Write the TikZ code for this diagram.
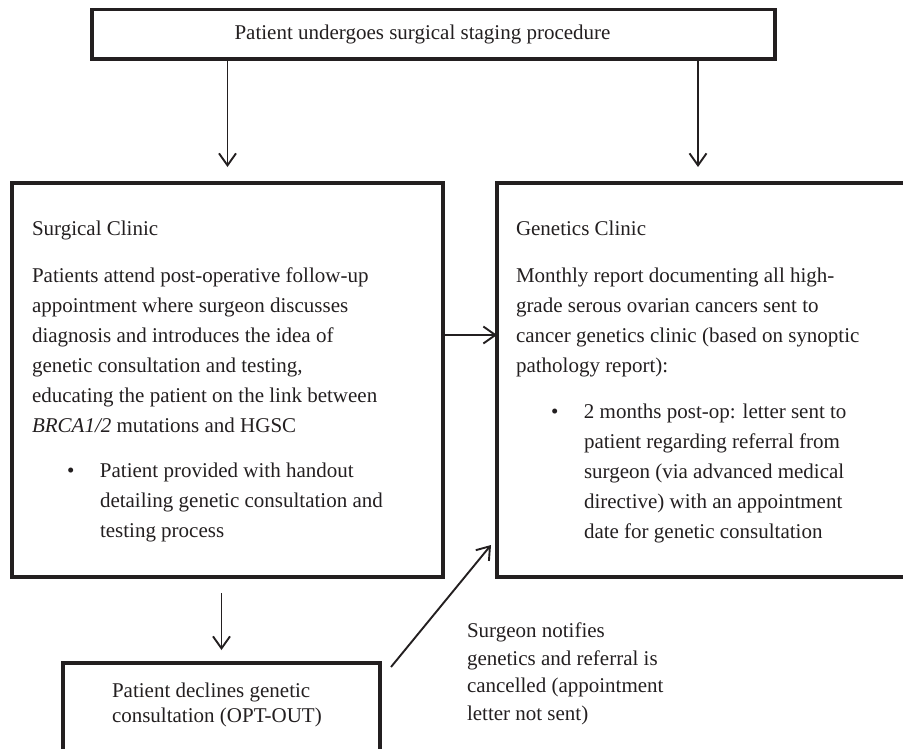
\documentclass[tikz,border=0pt]{standalone}
\usepackage{fontspec}
\setmainfont{Liberation Serif}
\usepackage{tikz}
\usetikzlibrary{arrows.meta}
\definecolor{ink}{HTML}{231F20}
\tikzstyle{every node}=[inner sep=0pt,outer sep=0pt,text=ink]
\tikzstyle{frame}=[draw=ink,line width=4pt]
\tikzstyle{body}=[anchor=base west,align=left,font=\fontsize{21}{30}\selectfont]
\tikzstyle{link}=[draw=ink,line width=1.9pt,-{Straight Barb[length=12pt,width=17pt]}]
\newcommand{\bul}{\hspace*{35pt}\makebox[33pt][l]{\textbullet}}
\newcommand{\ind}{\hspace*{68pt}}

\begin{document}
\begin{tikzpicture}[x=1pt,y=-1pt]
  \useasboundingbox (0,0) rectangle (903,748);
  \node[frame,line width=3.5pt,minimum width=683pt,minimum height=49.5pt,
    font=\fontsize{21}{25}\selectfont] (top) at (433.5,34.25)
    {\hspace*{-22pt}Patient undergoes surgical staging procedure};
  \node[frame,minimum width=431pt,minimum height=394pt] (surg) at (227.5,380) {};
  \node[frame,minimum width=463pt,minimum height=394pt] (gen) at (728.5,380) {};
  \node[frame,minimum width=317pt,minimum height=97pt] (decl) at (221.5,711.5) {};
  % base anchor sits on the last line
  \node[body] (surgtxt) at (32,537) {Surgical Clinic\\[17pt]
    Patients attend post-operative follow-up\\
    appointment where surgeon discusses\\
    diagnosis and introduces the idea of\\
    genetic consultation and testing,\\
    educating the patient on the link between\\
    \textit{BRCA1/2}\ mutations and HGSC\\[15pt]
    \bul Patient provided with handout\\
    \ind detailing genetic consultation and\\
    \ind testing process};
  \node[body] (gentxt) at (516,538) {Genetics Clinic\\[17pt]
    Monthly report documenting all high-\\
    grade serous ovarian cancers sent to\\
    cancer genetics clinic (based on synoptic\\
    pathology report):\\[16pt]
    \bul 2 months post-op: letter sent to\\
    \ind patient regarding referral from\\
    \ind surgeon (via advanced medical\\
    \ind directive) with an appointment\\
    \ind date for genetic consultation};
  \node[body,font=\fontsize{21}{25}\selectfont] (decltxt) at (112,722)
    {Patient declines genetic\\consultation (OPT-OUT)};
  \node[body,font=\fontsize{21}{27.5}\selectfont] (note) at (467,720)
    {Surgeon notifies\\genetics and referral is\\cancelled (appointment\\letter not sent)};
  \coordinate (gin) at (698,167);
  \coordinate (hy) at (470,335);
  \draw[link,shorten >=16pt] (top.south -| surg.north) -- (surg.north);
  \draw[link] (top.south -| gin) -- (gin);
  \draw[link] (surg.east |- hy) -- (gen.west |- hy);
  \draw[link,shorten <=16pt,shorten >=13pt] (surg.south -| decl.north) -- (decl.north);
  \draw[link] ([xshift=11pt,yshift=-4pt]decl.north east) -- ([xshift=-6pt,yshift=32pt]gen.south west);
\end{tikzpicture}
\end{document}
